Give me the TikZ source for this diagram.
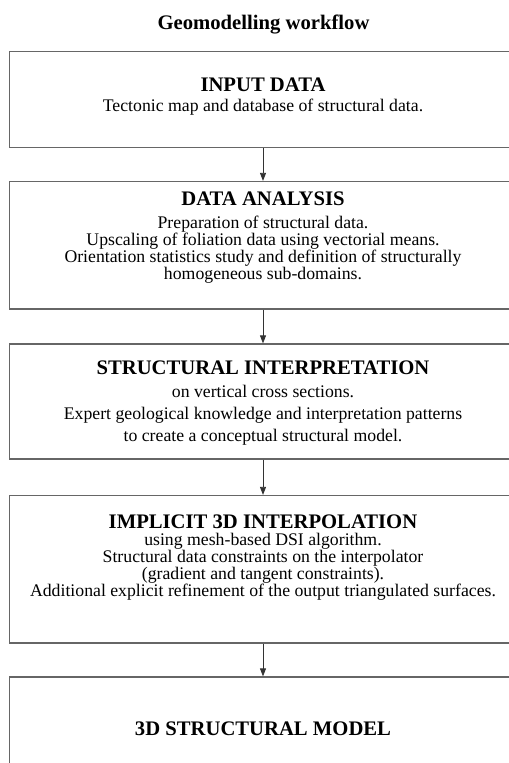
\documentclass[tikz,border=0pt]{standalone}
\usepackage{fontspec}
\setmainfont{Liberation Serif}
\usetikzlibrary{arrows.meta}
\newcommand{\steplines}[1]{\begin{tabular}[t]{@{}c@{}}#1\end{tabular}}
\begin{document}
\begin{tikzpicture}[x=0.75pt,y=-0.75pt,
    stage/.style={draw=black!60,line width=0.9pt,minimum width=380.25pt,inner sep=0pt},
    head/.style={anchor=base,inner sep=0pt,font=\fontsize{15.5}{18}\selectfont\bfseries},
    body/.style={anchor=base,inner sep=0pt,font=\fontsize{13.3}{12.2}\selectfont},
    flow/.style={draw=black!80,line width=0.6pt,-{Triangle[length=6pt,width=4.5pt]}}]
    \path[use as bounding box] (0,0) rectangle (509,763);
    \clip (0,0) rectangle (509,763);
    % title
    \node[head] (title) at (263.5,29.5) {Geomodelling workflow};
    % boxes
    \node[stage,minimum height=72pt] (input) at (263,99.5) {};
    \node[stage,minimum height=95.6pt] (analysis) at (263,245.25) {};
    \node[stage,minimum height=86.25pt] (interp) at (263,401.5) {};
    \node[stage,minimum height=110.6pt] (interpol) at (263,569.25) {};
    \node[stage,minimum height=92.25pt] (model) at (263,738.5) {};
    % texts
    \node[head] (input-h) at (263,92) {INPUT DATA};
    \node[body] (input-t) at (263,112) {Tectonic map and database of structural data.};
    \node[head] (analysis-h) at (263,205) {DATA ANALYSIS};
    \node[body] (analysis-t) at (263,228) {\steplines{Preparation of structural data.\\
      Upscaling of foliation data using vectorial means.\\
      Orientation statistics study and definition of structurally\\
      homogeneous sub-domains.}};
    \node[head] (interp-h) at (263,374) {STRUCTURAL INTERPRETATION};
    \node[body,font=\fontsize{13.3}{16.5}\selectfont] (interp-t) at (263,397) {\steplines{on vertical cross sections.\\
      Expert geological knowledge and interpretation patterns\\
      to create a conceptual structural model.}};
    \node[head] (interpol-h) at (263,528) {IMPLICIT 3D INTERPOLATION};
    \node[body] (interpol-t) at (263,545) {\steplines{using mesh-based DSI algorithm.\\
      Structural data constraints on the interpolator\\
      (gradient and tangent constraints).\\
      Additional explicit refinement of the output triangulated surfaces.}};
    \node[head] (model-h) at (263,735) {3D STRUCTURAL MODEL};
    % arrows
    \draw[flow] (input) -- (analysis);
    \draw[flow] (analysis) -- (interp);
    \draw[flow] (interp) -- (interpol);
    \draw[flow] (interpol) -- (model);
\end{tikzpicture}
\end{document}
